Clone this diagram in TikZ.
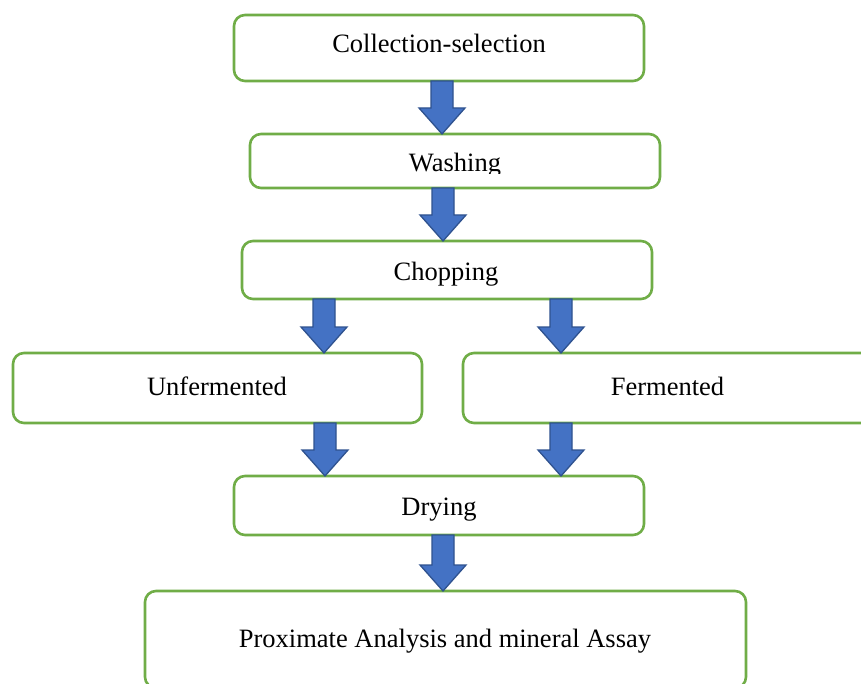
\documentclass[tikz,border=0pt]{standalone}
\usepackage{fontspec}
\setmainfont{Liberation Serif}
\usetikzlibrary{calc}
\definecolor{boxgreen}{HTML}{70AD47}
\definecolor{arrowfill}{HTML}{4472C4}
\definecolor{arrowline}{HTML}{2F528F}
\tikzset{
  stepbox/.style={draw=boxgreen, line width=2.6pt, rounded corners=11pt, fill=white,
    rectangle, inner sep=0pt, outer sep=0pt, anchor=north west},
  steptext/.style={anchor=base, inner sep=0pt, font=\fontsize{26.5}{30}\selectfont},
  barrowstyle/.style={draw=arrowline, fill=arrowfill, line width=1.3pt, line join=miter}
}
% block arrow: x from #1, y from #1 (top) to #2 (tip)
\newcommand\blockarrow[2]{%
  \path let \p1=#1, \p2=#2 in
    [barrowstyle] (\x1-11pt,\y1) -- (\x1+11pt,\y1) -- (\x1+11pt,\y2+26pt)
    -- (\x1+23pt,\y2+26pt) -- (\x1,\y2) -- (\x1-23pt,\y2+26pt)
    -- (\x1-11pt,\y2+26pt) -- cycle;}
\begin{document}
\begin{tikzpicture}[x=1pt,y=-1pt]
  \clip (0,0) rectangle (861,684);
  \fill[white] (0,0) rectangle (861,684);
  % boxes
  \node[stepbox, minimum width=410pt, minimum height=66pt] (col) at (234,15) {};
  \node[stepbox, minimum width=410pt, minimum height=54pt] (wash) at (250,134) {};
  \node[stepbox, minimum width=410pt, minimum height=58pt] (chop) at (242,241) {};
  \node[stepbox, minimum width=409pt, minimum height=70pt] (unf) at (13,353) {};
  \node[stepbox, minimum width=409pt, minimum height=70pt] (fer) at (463,353) {};
  \node[stepbox, minimum width=410pt, minimum height=59pt] (dry) at (234,476) {};
  \node[stepbox, minimum width=601pt, minimum height=97pt] (prox) at (145,591) {};
  % texts
  \node[steptext] (colt) at (439,53) {Collection-selection};
  \begin{scope}
    \clip (250,134) rectangle (660,174);
    \node[steptext] (washt) at (455,172) {Washing};
  \end{scope}
  \node[steptext] (chopt) at (446,280) {Chopping};
  \node[steptext] (unft) at (217,395) {Unfermented};
  \node[steptext] (fert) at (667.5,395) {Fermented};
  \node[steptext] (dryt) at (439,515) {Drying};
  \node[steptext] (proxt) at (445,647) {Proximate Analysis and mineral Assay};
  % arrows
  \blockarrow{([xshift=3pt]col.south)}{(wash.north)}
  \blockarrow{([xshift=-12pt]wash.south)}{(chop.north)}
  \blockarrow{([xshift=-123pt]chop.south)}{(unf.north)}
  \blockarrow{([xshift=114pt]chop.south)}{(fer.north)}
  \blockarrow{([xshift=107.5pt]unf.south)}{(dry.north)}
  \blockarrow{([xshift=-106.5pt]fer.south)}{(dry.north)}
  \blockarrow{([xshift=4pt]dry.south)}{(prox.north)}
\end{tikzpicture}
\end{document}
